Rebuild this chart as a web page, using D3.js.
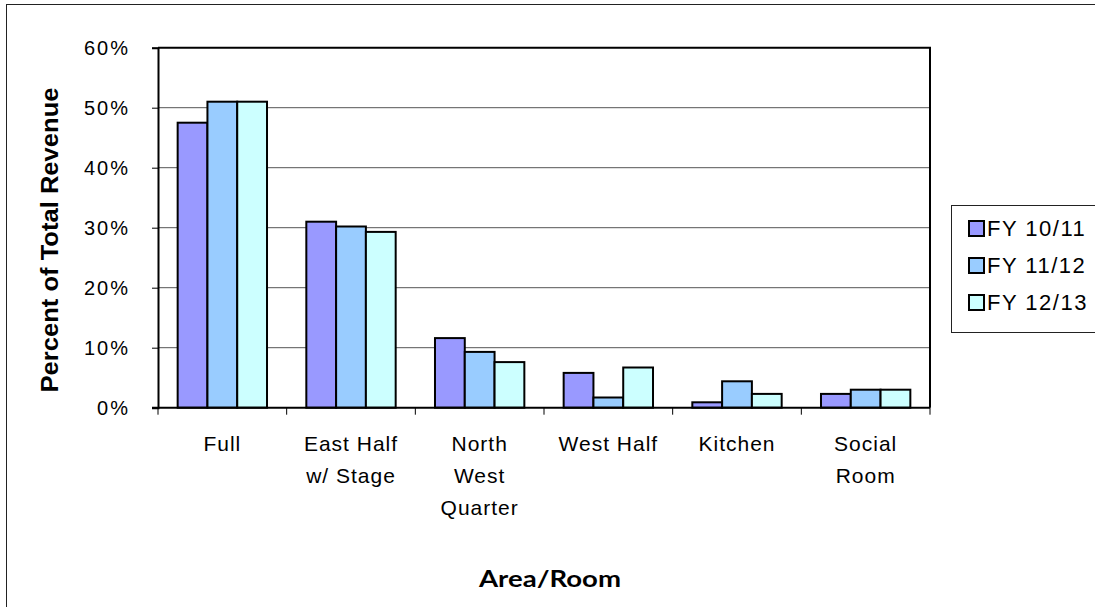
<!DOCTYPE html>
<html>
<head>
<meta charset="utf-8">
<script src="https://cdn.jsdelivr.net/npm/d3@7"></script>
<style>
  body { margin: 0; background: #fff; }
  svg { display: block; }
  text { font-family: "Liberation Sans", Arial, sans-serif; fill: #000; }
</style>
</head>
<body>
<svg id="chart" width="1095" height="607"></svg>
<script>
// data
var categories = ["Full", "East Half w/ Stage", "North West Quarter", "West Half", "Kitchen", "Social Room"];
var categoryLines = [["Full"], ["East Half", "w/ Stage"], ["North", "West", "Quarter"], ["West Half"], ["Kitchen"], ["Social", "Room"]];
var seriesNames = ["FY 10/11", "FY 11/12", "FY 12/13"];
var fy1011 = [47.5, 31.0, 11.6, 5.8, 0.9, 2.3];
var fy1112 = [51.0, 30.2, 9.3, 1.7, 4.4, 3.0];
var fy1213 = [51.0, 29.3, 7.6, 6.7, 2.3, 3.0];
var colors = ["#9999FF", "#99CCFF", "#CCFFFF"];
var yTicks = [0, 10, 20, 30, 40, 50, 60];

var seriesValues = [fy1011, fy1112, fy1213];

var svg = d3.select("#chart");

// outer chart border (right/bottom run off the picture)
svg.append("rect")
    .attr("x", 6.5).attr("y", 4.5)
    .attr("width", 1100).attr("height", 620)
    .attr("fill", "none").attr("stroke", "#222").attr("stroke-width", 1);

var plotL = 158, plotR = 930, plotT = 47.7, plotB = 407.7;

var x0 = d3.scaleBand().domain(categories).range([plotL, plotR]).padding(0);
var x1 = d3.scaleBand().domain(seriesNames).range([0, x0.bandwidth()])
    .paddingInner(0).paddingOuter(0.66);
var y = d3.scaleLinear().domain([0, 60]).range([plotB, plotT]);

// gridlines
svg.append("g")
    .selectAll("line")
    .data(yTicks.filter(d => d > 0 && d < 60))
    .join("line")
    .attr("x1", plotL).attr("x2", plotR)
    .attr("y1", d => y(d)).attr("y2", d => y(d))
    .attr("stroke", "#555").attr("stroke-width", 1);

// plot frame top + right
svg.append("path")
    .attr("d", "M" + plotL + "," + plotT + "H" + plotR + "V" + plotB)
    .attr("fill", "none").attr("stroke", "#000").attr("stroke-width", 2);

// bars
var groups = svg.append("g").selectAll("g")
    .data(categories)
    .join("g")
    .attr("transform", d => "translate(" + x0(d) + ",0)");

groups.selectAll("rect")
    .data((d, i) => seriesNames.map((s, j) => ({ s: s, j: j, v: seriesValues[j][i] })))
    .join("rect")
    .attr("x", d => x1(d.s))
    .attr("y", d => y(d.v))
    .attr("width", x1.bandwidth())
    .attr("height", d => y(0) - y(d.v))
    .attr("fill", d => colors[d.j])
    .attr("stroke", "#000").attr("stroke-width", 2);

// y axis
var yAxis = d3.axisLeft(y).tickValues(yTicks).tickSize(6).tickPadding(22)
    .tickFormat(d => d + "%");
var gy = svg.append("g").attr("transform", "translate(" + plotL + ",0)").call(yAxis);
gy.select(".domain").attr("stroke", "#000").attr("stroke-width", 2);
gy.selectAll(".tick line").attr("stroke", "#000");
gy.selectAll(".tick text")
    .style("font-size", "20px").style("letter-spacing", "2px")
    .attr("dy", "0.35em");

// x axis
var xAxis = d3.axisBottom(x0).tickSize(0).tickFormat("");
var gx = svg.append("g").attr("transform", "translate(0," + plotB + ")").call(xAxis);
gx.select(".domain").remove();
gx.append("line").attr("x1", plotL - 6).attr("x2", plotR)
    .attr("stroke", "#000").attr("stroke-width", 2);
var boundaries = categories.map(c => x0(c)).concat([plotR]);
gx.selectAll(".sep").data(boundaries).join("line").attr("class", "sep")
    .attr("x1", d => d).attr("x2", d => d).attr("y1", 0).attr("y2", 7)
    .attr("stroke", "#000");

// category labels
var labels = svg.append("g").selectAll("text")
    .data(categories)
    .join("text")
    .attr("text-anchor", "middle")
    .style("font-size", "21px")
    .style("letter-spacing", "1px")
    .attr("transform", d => "translate(" + (x0(d) + x0.bandwidth() / 2) + ",451)");
labels.each(function (d, i) {
    d3.select(this).selectAll("tspan")
        .data(categoryLines[i])
        .join("tspan")
        .attr("x", 0)
        .attr("y", (l, k) => k * 32)
        .text(l => l);
});

// axis titles
svg.append("text")
    .attr("transform", "translate(58,240) rotate(-90)")
    .attr("text-anchor", "middle")
    .style("font-size", "23px").style("font-weight", "bold")
    .attr("textLength", 305).attr("lengthAdjust", "spacingAndGlyphs")
    .text("Percent of Total Revenue");

svg.append("text")
    .attr("x", 550).attr("y", 587)
    .attr("text-anchor", "middle")
    .style("font-family", "Lato, 'Open Sans', sans-serif")
    .style("font-size", "23px").style("font-weight", "bold")
    .attr("textLength", 142).attr("lengthAdjust", "spacingAndGlyphs")
    .text("Area/Room");

// legend
var legend = svg.append("g");
legend.append("rect")
    .attr("x", 951.5).attr("y", 205.5).attr("width", 150).attr("height", 127)
    .attr("fill", "#fff").attr("stroke", "#222").attr("stroke-width", 1);
var items = legend.selectAll("g.item").data(seriesNames).join("g").attr("class", "item")
    .attr("transform", (d, i) => "translate(969," + (221 + i * 37) + ")");
items.append("rect")
    .attr("width", 15).attr("height", 15)
    .attr("fill", (d, i) => colors[i])
    .attr("stroke", "#000").attr("stroke-width", 2);
items.append("text")
    .attr("x", 18).attr("y", 15)
    .style("font-size", "22px").style("letter-spacing", "1.5px")
    .text(d => d);
</script>
</body>
</html>
